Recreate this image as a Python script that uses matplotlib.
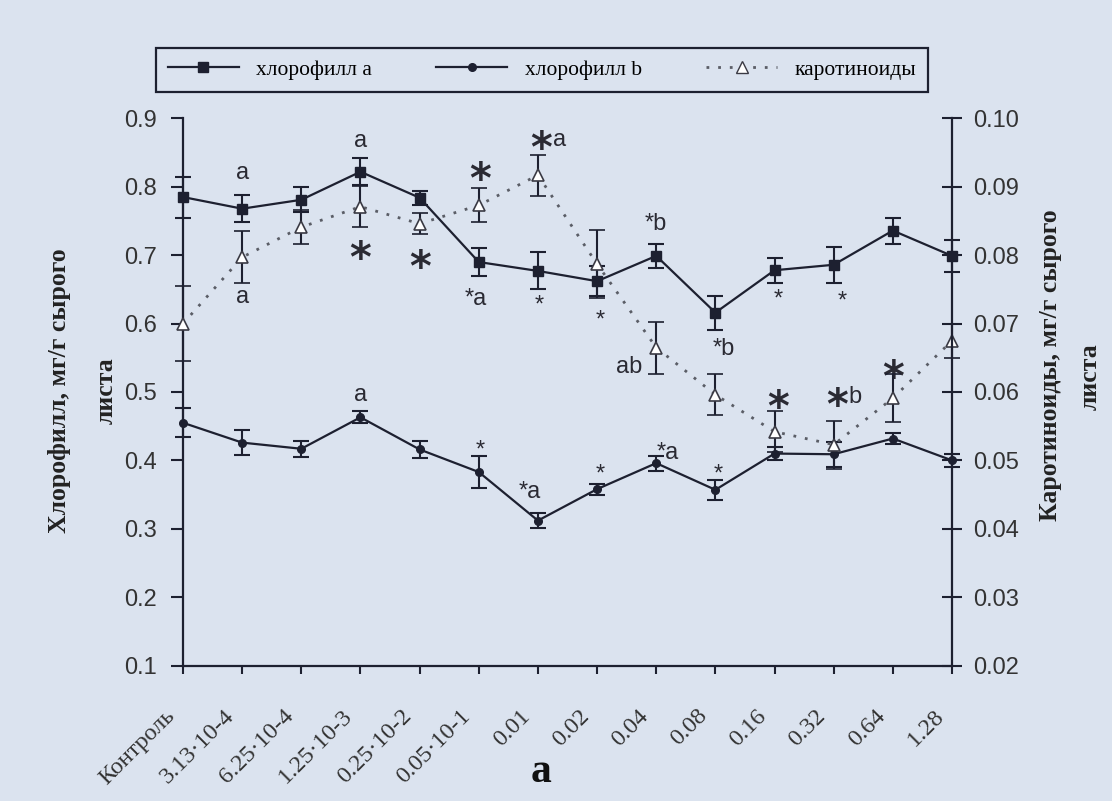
import numpy as np
import matplotlib
matplotlib.use('Agg')
import matplotlib.pyplot as plt
import matplotlib.transforms as mtransforms
from matplotlib.lines import Line2D

# Doses on the x axis.
doses = ['Контроль', '3.13·10-4', '6.25·10-4', '1.25·10-3', '0.25·10-2',
         '0.05·10-1', '0.01', '0.02', '0.04', '0.08', '0.16', '0.32',
         '0.64', '1.28']

# Chlorophyll a and b (left axis, mg/g), carotenoids (right axis, mg/g).
chl_a = [0.785, 0.768, 0.781, 0.822, 0.784, 0.690, 0.677, 0.662, 0.699,
         0.616, 0.678, 0.686, 0.736, 0.699]
chl_a_err = [0.030, 0.020, 0.018, 0.020, 0.010, 0.021, 0.027, 0.022, 0.018,
             0.025, 0.018, 0.026, 0.019, 0.023]
chl_b = [0.455, 0.426, 0.417, 0.463, 0.416, 0.383, 0.312, 0.358, 0.396,
         0.357, 0.410, 0.409, 0.432, 0.400]
chl_b_err = [0.021, 0.018, 0.012, 0.009, 0.012, 0.024, 0.011, 0.008, 0.011,
             0.015, 0.010, 0.018, 0.008, 0.010]
car = [0.0700, 0.0797, 0.0841, 0.0871, 0.0846, 0.0873, 0.0917, 0.0787,
       0.0665, 0.0596, 0.0542, 0.0523, 0.0591, 0.0675]
car_err = [0.0055, 0.0038, 0.0025, 0.0030, 0.0015, 0.0025, 0.0030, 0.0050,
           0.0038, 0.0030, 0.0030, 0.0035, 0.0035, 0.0025]

legend_labels = ['хлорофилл a', 'хлорофилл b', 'каротиноиды']

# Significance marks: (dose index, level on left axis, text, kind)
marks = [
    (1, 0.820, 'a', 'txt'), (1, 0.639, 'a', 'txt'), (3, 0.868, 'a', 'txt'),
    (3, 0.712, '*', 'big'), (4, 0.698, '*', 'big'), (5.02, 0.827, '*', 'big'),
    (4.95, 0.637, '*a', 'txt'), (6.05, 0.872, '*', 'big'), (6.37, 0.869, 'a', 'txt'),
    (6.03, 0.637, '*', 'small'), (7.05, 0.616, '*', 'small'),
    (8.0, 0.749, '*b', 'txt'), (7.55, 0.54, 'ab', 'txt'), (9.15, 0.566, '*b', 'txt'),
    (10.06, 0.647, '*', 'small'), (11.14, 0.644, '*', 'small'),
    (10.06, 0.493, '*', 'big'), (11.06, 0.496, '*', 'big'), (11.36, 0.496, 'b', 'txt'),
    (12.01, 0.537, '*', 'big'), (3, 0.496, 'a', 'txt'), (5.02, 0.425, '*', 'small'),
    (5.87, 0.354, '*a', 'txt'), (8.2, 0.411, '*a', 'txt'),
    (7.05, 0.391, '*', 'small'), (9.05, 0.391, '*', 'small'),
]

bg = '#dbe3ef'
ink = '#1d2030'
grey = '#3a3a44'
plt.rcParams['font.family'] = ['Liberation Sans', 'DejaVu Sans']

W, H = 1112, 801
fig = plt.figure(figsize=(W / 100, H / 100), dpi=100, facecolor=bg)
ax = fig.add_axes([183 / W, 1 - 665.6 / H, (952 - 183) / W, (665.6 - 118.4) / H])
ax.set_facecolor(bg)
ax2 = ax.twinx()
x = np.arange(len(doses))

eb_a = ax.errorbar(x, chl_a, yerr=chl_a_err, fmt='-s', color=ink, ms=7.5, lw=1.6,
                   elinewidth=1.5, capsize=5.5, capthick=1.5)
eb_b = ax.errorbar(x, chl_b, yerr=chl_b_err, fmt='-o', color=ink, ms=5.5, lw=1.6,
                   elinewidth=1.5, capsize=5.5, capthick=1.5)
eb_c = ax2.errorbar(x, car, yerr=car_err, fmt='^', color=ink, mfc='white', mec=grey,
                    ms=9, mew=1.2, elinewidth=1.5, capsize=5.5, capthick=1.5)
ax2.plot(x, car, ls=(0, (1, 3.2)), color='#5a5d66', lw=2.0, zorder=1, clip_on=False)
for cont in (eb_a, eb_b, eb_c):
    for art in cont.get_children():
        art.set_clip_on(False)

ax.set_xlim(0, 13)
ax.set_ylim(0.1, 0.9)
ax2.set_ylim(0.02, 0.10)
ax.set_yticks(np.arange(0.1, 0.91, 0.1))
ax.set_yticklabels([f'{v:.1f}' for v in np.arange(0.1, 0.91, 0.1)])
ax2.set_yticks(np.arange(0.02, 0.101, 0.01))
ax2.set_yticklabels([f'{v:.2f}' for v in np.arange(0.02, 0.101, 0.01)])

for a in (ax, ax2):
    a.spines['top'].set_visible(False)
    for s in a.spines.values():
        s.set_linewidth(1.6)
        s.set_color(ink)
ax2.spines['left'].set_visible(False)
ax2.spines['bottom'].set_visible(False)
ax.spines['right'].set_visible(False)

ax.tick_params(axis='y', direction='out', length=9, width=1.5, labelsize=17,
               pad=10, colors=ink, labelcolor='#333')
ax2.tick_params(axis='y', direction='inout', length=14, width=1.5, labelsize=17,
                pad=8, colors=ink, labelcolor='#333')
ax.tick_params(axis='x', direction='out', length=6, width=1.5, pad=28, colors=ink)
ax.set_xticks(x)
ax.set_xticklabels(doses, rotation=45, ha='right', va='center', rotation_mode='anchor',
                   fontfamily='Liberation Serif', fontsize=17.5, color='#333')
shift = mtransforms.ScaledTranslation(-8 / 72, 0, fig.dpi_scale_trans)
for lab in ax.get_xticklabels():
    lab.set_transform(lab.get_transform() + shift)

# significance letters and asterisks
for xi, yv, txt, kind in marks:
    if kind == 'big':
        fs, fam, fw, k = 30, 'DejaVu Sans', 'bold', 0.59
    elif kind == 'small':
        fs, fam, fw, k = 17, 'Liberation Sans', 'normal', 0.58
    else:
        fs, fam, fw = 17, 'Liberation Sans', 'normal'
        k = 0.36 if 'b' in txt else 0.27
    ax.annotate(txt, xy=(xi, yv), xytext=(0, -k * fs), textcoords='offset points',
                ha='center', va='baseline', fontsize=fs, fontfamily=fam,
                fontweight=fw, color='#2a2a33', annotation_clip=False)

handles = [
    Line2D([], [], color=ink, lw=1.6, marker='s', ms=7.5),
    Line2D([], [], color=ink, lw=1.6, marker='o', ms=5.5),
    Line2D([], [], color='#5a5d66', lw=2.0, ls=(0, (1, 3.2)), marker='^', ms=8,
           mfc='white', mec=grey),
]
leg = fig.legend(handles, legend_labels, loc='center', bbox_to_anchor=(542 / W, 1 - 70 / H),
                 ncol=3, frameon=True, fancybox=False, facecolor=bg, edgecolor=ink,
                 framealpha=1, handlelength=3.3, columnspacing=3.0, borderpad=0.55,
                 prop={'family': 'Liberation Serif', 'size': 15.5})
leg.get_frame().set_linewidth(1.6)

ylab = dict(rotation=90, ha='center', va='center', fontfamily='Liberation Serif',
            fontweight='bold', fontsize=18.5, color='#222')
fig.text(60 / W, 1 - 391 / H, 'Хлорофилл, мг/г сырого', **ylab)
fig.text(106 / W, 1 - 391 / H, 'листа', **ylab)
fig.text(1050 / W, 1 - 365 / H, 'Каротиноиды, мг/г сырого', **ylab)
fig.text(1090 / W, 1 - 377 / H, 'листа', **ylab)

fig.text(541 / W, 1 - 772 / H, 'a', ha='center', va='center', fontsize=30,
         fontweight='bold', fontfamily='Liberation Serif', color='#111')

fig.savefig('out.png', dpi=100, facecolor=bg)
